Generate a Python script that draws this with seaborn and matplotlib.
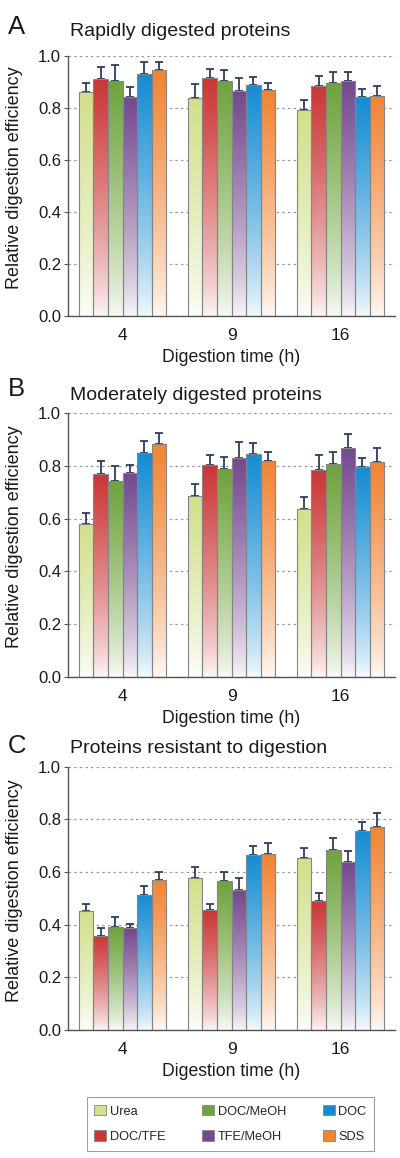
import numpy as np
import pandas as pd
import matplotlib
matplotlib.use("Agg")
import matplotlib.pyplot as plt
import matplotlib.colors as mcolors
from matplotlib.patches import Patch
import seaborn as sns

# ---------------- data ----------------
times = ["4", "9", "16"]
methods = ["Urea", "DOC/TFE", "DOC/MeOH", "TFE/MeOH", "DOC", "SDS"]
method_colors = ["#d2e08c", "#cb3535", "#6ea33c", "#74498f", "#158cd2", "#f28433"]

panel_titles = ["Rapidly digested proteins",
                "Moderately digested proteins",
                "Proteins resistant to digestion"]
panel_letters = ["A", "B", "C"]

# mean values: one row per method, columns = times 4, 9, 16
rapid_mean = [
    [0.859, 0.837, 0.790],
    [0.910, 0.913, 0.882],
    [0.903, 0.903, 0.895],
    [0.842, 0.863, 0.901],
    [0.929, 0.888, 0.840],
    [0.944, 0.868, 0.845],
]
rapid_err = [
    [0.037, 0.054, 0.038],
    [0.048, 0.037, 0.040],
    [0.061, 0.041, 0.042],
    [0.039, 0.050, 0.036],
    [0.045, 0.031, 0.031],
    [0.030, 0.029, 0.037],
]
moderate_mean = [
    [0.581, 0.685, 0.638],
    [0.770, 0.804, 0.785],
    [0.744, 0.787, 0.806],
    [0.772, 0.832, 0.870],
    [0.849, 0.846, 0.797],
    [0.885, 0.818, 0.815],
]
moderate_err = [
    [0.041, 0.047, 0.043],
    [0.048, 0.039, 0.058],
    [0.057, 0.048, 0.047],
    [0.033, 0.058, 0.052],
    [0.046, 0.040, 0.035],
    [0.039, 0.034, 0.055],
]
resistant_mean = [
    [0.452, 0.576, 0.652],
    [0.358, 0.454, 0.491],
    [0.390, 0.565, 0.685],
    [0.387, 0.533, 0.639],
    [0.513, 0.665, 0.756],
    [0.570, 0.667, 0.771],
]
resistant_err = [
    [0.025, 0.044, 0.038],
    [0.029, 0.026, 0.031],
    [0.038, 0.034, 0.045],
    [0.016, 0.043, 0.042],
    [0.034, 0.032, 0.034],
    [0.030, 0.044, 0.052],
]

panel_means = [rapid_mean, moderate_mean, resistant_mean]
panel_errs = [rapid_err, moderate_err, resistant_err]

# ---------------- style ----------------
sns.set_theme(style="white")
plt.rcParams["font.family"] = ["Liberation Sans", "DejaVu Sans"]

W, H = 400, 1158
fig = plt.figure(figsize=(W / 100, H / 100), dpi=100)

def fy(px):
    return 1 - px / H

# axes pixel boxes: (left, top, right, bottom)
boxes = [(68, 55.7, 395, 316), (68, 413.3, 395, 676.7), (68, 766.7, 395, 1030)]
title_base = [36.0, 400.5, 753.0]
letter_base = [34.5, 396.0, 753.0]

edge_col = "#858585"
err_col = "#2d3e60"
txt_col = "#1a1a1a"

for p in range(3):
    l, t, r, b = boxes[p]
    ax = fig.add_axes([l / W, fy(b), (r - l) / W, (b - t) / H])
    rows = []
    for mi, m in enumerate(methods):
        for ti, tm in enumerate(times):
            rows.append({"time": tm, "method": m,
                         "value": panel_means[p][mi][ti]})
    df = pd.DataFrame(rows)
    sns.barplot(data=df, x="time", y="value", hue="method", order=times,
                hue_order=methods, palette=method_colors, errorbar=None,
                width=0.8, edgecolor=edge_col, linewidth=0.8, legend=False,
                ax=ax, zorder=2)

    # gradient fill + error bars
    bars = list(ax.patches)
    rgb_list = [np.array(mcolors.to_rgb(c)) for c in method_colors]
    for patch in bars:
        h = patch.get_height()
        if h <= 0:
            continue
        x0 = patch.get_x()
        w = patch.get_width()
        fc = np.array(patch.get_facecolor()[:3])
        mi = int(np.argmin([np.sum((fc - c) ** 2) for c in rgb_list]))
        ti = int(round(x0 + w / 2))
        col = rgb_list[mi]
        n = 200
        tt = np.linspace(0, 1, n)[:, None]  # 0 bottom -> 1 top
        f = 0.03 + 0.97 * tt ** 0.75
        img = (1 - f) * np.ones(3) + f * col
        img = img[:, None, :]
        im = ax.imshow(img, extent=[x0, x0 + w, 0, h], origin="lower",
                       aspect="auto", zorder=1.5, interpolation="bilinear")
        im.set_clip_path(patch)
        patch.set_facecolor("none")
        patch.set_zorder(2.5)
        ax.errorbar(x0 + w / 2, h, yerr=[[0], [panel_errs[p][mi][ti]]],
                    fmt="none", ecolor=err_col, elinewidth=1.3, capsize=2.6,
                    capthick=1.3, zorder=2.4)
    ax.set_xlim(-0.5, 2.5)
    ax.set_ylim(0, 1.0)

    ax.set_yticks([0, 0.2, 0.4, 0.6, 0.8, 1.0])
    ax.set_yticklabels(["0.0", "0.2", "0.4", "0.6", "0.8", "1.0"])
    ax.yaxis.grid(True, linestyle=(0, (2, 2.5)), color="#999999", linewidth=0.9)
    ax.set_axisbelow(True)
    for s in ["top", "right"]:
        ax.spines[s].set_visible(False)
    for s in ["left", "bottom"]:
        ax.spines[s].set_color("#555555")
        ax.spines[s].set_linewidth(1.0)
    ax.tick_params(axis="y", length=3, width=0.8, color="#555555",
                   labelsize=12, pad=2, labelcolor=txt_col, direction="out", left=True)
    ax.tick_params(axis="x", length=0, labelsize=12.5, pad=9, labelcolor=txt_col)
    ax.set_xlabel("Digestion time (h)", fontsize=12.7, labelpad=4, color=txt_col)
    ax.set_ylabel("Relative digestion efficiency", fontsize=13, color=txt_col)
    ax.yaxis.set_label_coords((23 - l) / (r - l), 0.53)

    fig.text(70 / W, fy(title_base[p]), panel_titles[p], fontsize=14,
             ha="left", va="baseline", color=txt_col)
    fig.text(8 / W, fy(letter_base[p]), panel_letters[p], fontsize=18.5,
             ha="left", va="baseline", color=txt_col)

# legend
handles = [Patch(facecolor=c, edgecolor=edge_col, linewidth=0.6) for c in method_colors]
leg = fig.legend(handles, methods, ncol=3, loc="center",
                 bbox_to_anchor=(230.5 / W, fy(1124)), fontsize=9.2,
                 frameon=True, fancybox=False, edgecolor="#888888",
                 handlelength=0.9, handleheight=0.85, handletextpad=0.3,
                 columnspacing=2.9, borderpad=0.6, labelspacing=1.0)
leg.get_frame().set_linewidth(0.8)

fig.savefig("out.png", dpi=100)
